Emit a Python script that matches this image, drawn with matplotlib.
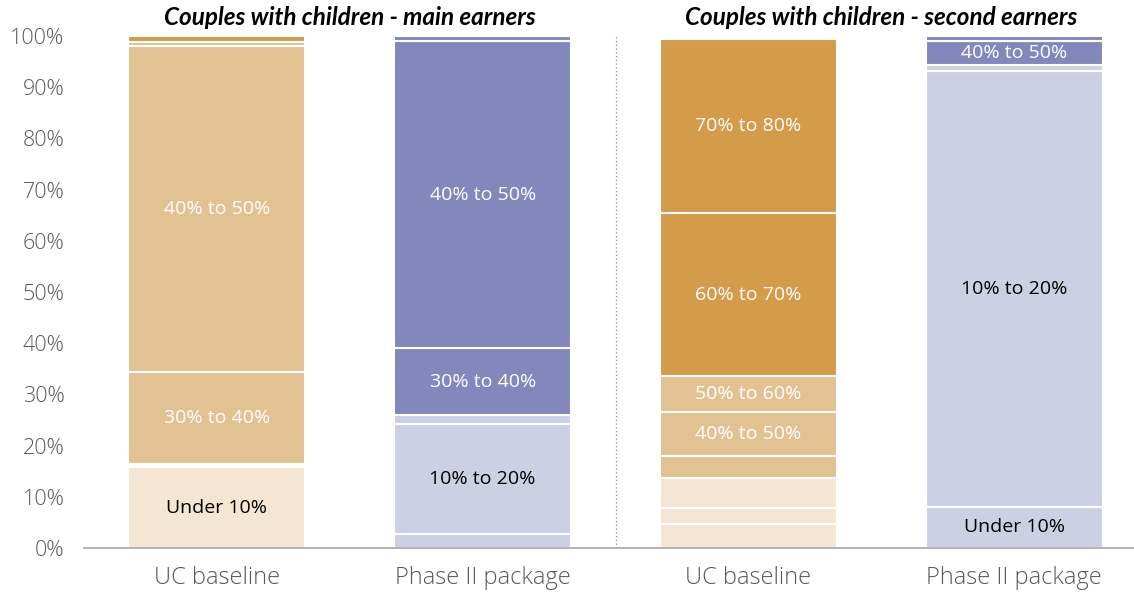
import numpy as np
import matplotlib.pyplot as plt

# bars and income bands
bars = ["UC baseline", "Phase II package", "UC baseline", "Phase II package"]
panel_titles = ["Couples with children - main earners", "Couples with children - second earners"]
bands = ["Under 10%", "10% to 20%", "20% to 30%", "30% to 40%",
         "40% to 50%", "50% to 60%", "60% to 70%", "70% to 80%"]

# share of each bar in each band (%)
uc_main = [15.8, 0.3, 0.3, 18.0, 63.6, 0.9, 1.1, 0.0]
p2_main = [2.7, 21.5, 1.8, 13.0, 60.0, 1.0, 0.0, 0.0]
uc_second = [4.6, 3.3, 5.8, 4.3, 8.6, 7.0, 31.8, 34.1]
p2_second = [8.1, 85.1, 1.1, 0.0, 4.8, 0.9, 0.0, 0.0]
values = [uc_main, p2_main, uc_second, p2_second]

# which segments carry a label in each bar
labelled = [
    ["Under 10%", "30% to 40%", "40% to 50%"],
    ["10% to 20%", "30% to 40%", "40% to 50%"],
    ["40% to 50%", "50% to 60%", "60% to 70%", "70% to 80%"],
    ["Under 10%", "10% to 20%", "40% to 50%"],
]

orange = ["#F5E6D3", "#F5E6D3", "#F5E6D3", "#E2C293", "#E2C293", "#E2C293", "#D39B4A", "#D39B4A"]
purple = ["#CDD0E5", "#CDD0E5", "#CDD0E5", "#8288BC", "#8288BC", "#8288BC", "#8288BC", "#8288BC"]
palettes = [orange, purple, orange, purple]
dark = {"#E2C293", "#D39B4A", "#8288BC"}

plt.rcParams['font.family'] = ['Open Sans', 'DejaVu Sans']

fig = plt.figure(figsize=(11.34, 5.95), dpi=100)
ax = fig.add_axes([0.074, 0.079, 0.926, 0.8605])

x = np.arange(len(bars))
width = 0.665
for i, vals in enumerate(values):
    bottom = 0.0
    for j, v in enumerate(vals):
        if v <= 0:
            continue
        col = palettes[i][j]
        ax.bar(x[i], v, width, bottom=bottom, color=col, edgecolor="white", linewidth=1.5)
        if bands[j] in labelled[i]:
            ax.text(x[i], bottom + v / 2, bands[j], ha="center", va="center",
                    fontsize=14, color="white" if col in dark else "black")
        bottom += v

ax.set_xlim(-0.5, 3.45)
ax.set_ylim(0, 100)
ax.set_yticks(np.arange(0, 101, 10))
ax.set_yticklabels([f"{t}%" for t in range(0, 101, 10)], fontweight=300)
ax.set_xticks(x)
ax.set_xticklabels(bars, fontweight=300)
ax.tick_params(axis="y", length=0, labelsize=15.5, colors="#595959", pad=14)
ax.tick_params(axis="x", length=0, labelsize=17, colors="#595959", pad=13)

for s in ["top", "right", "left"]:
    ax.spines[s].set_visible(False)
ax.spines["bottom"].set_color("#A6A6A6")
ax.spines["bottom"].set_linewidth(1.2)

ax.axvline(1.5, color="#8C8C8C", linestyle=(0, (1, 2)), linewidth=0.9)

for k, title in enumerate(panel_titles):
    ax.text(2 * k + 0.5, 101.3, title, ha="center", va="bottom", fontsize=17.5,
            fontweight="bold", fontstyle="italic", family=["Lato", "DejaVu Sans"])

fig.savefig("out.png", dpi=100)
